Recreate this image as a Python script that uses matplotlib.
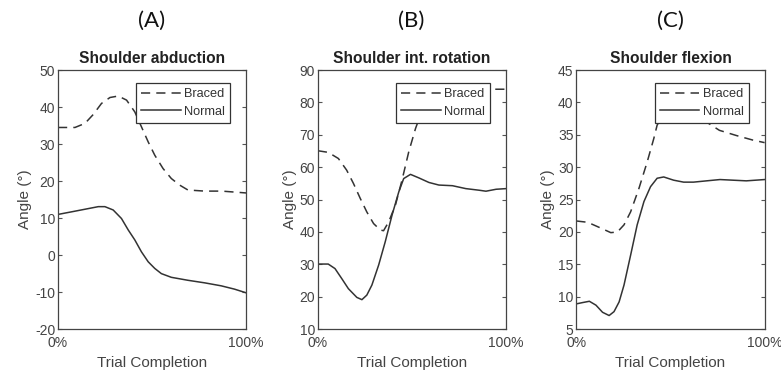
import matplotlib.pyplot as plt
import numpy as np

# trial completion fraction (0..1) and angles (deg)
abd_braced_x = [0, 0.09, 0.143, 0.187, 0.231, 0.276, 0.32, 0.364, 0.408, 0.443, 0.479, 0.514,
                0.558, 0.602, 0.647, 0.69, 0.78, 0.87, 1.0]
abd_braced_y = [34.5, 34.5, 35.6, 38.0, 41.0, 42.6, 43.0, 41.9, 38.7, 34.7, 30.6, 27.0,
                23.4, 20.7, 18.9, 17.6, 17.3, 17.3, 16.8]
abd_normal_x = [0, 0.072, 0.143, 0.214, 0.249, 0.293, 0.337, 0.373, 0.408, 0.443, 0.479, 0.514,
                0.549, 0.602, 0.69, 0.78, 0.867, 0.938, 1.0]
abd_normal_y = [11.0, 11.7, 12.4, 13.1, 13.1, 12.2, 9.9, 6.8, 4.1, 0.9, -1.8, -3.6,
                -5.0, -6.0, -6.8, -7.5, -8.3, -9.2, -10.2]

rot_braced_x = [0, 0.055, 0.109, 0.153, 0.189, 0.225, 0.26, 0.296, 0.332, 0.349, 0.376, 0.412,
                0.447, 0.483, 0.519, 0.56, 0.6, 0.65, 0.75, 0.929, 1.0]
rot_braced_y = [65.1, 64.6, 62.7, 59.1, 55.0, 50.4, 46.2, 42.6, 40.6, 40.4, 43.1, 48.3,
                56.0, 64.8, 72.0, 78.5, 82.5, 84.6, 84.5, 84.1, 84.1]
rot_normal_x = [0, 0.055, 0.091, 0.127, 0.162, 0.207, 0.234, 0.26, 0.287, 0.323, 0.358, 0.394,
                0.43, 0.456, 0.492, 0.537, 0.59, 0.643, 0.715, 0.786, 0.857, 0.893, 0.947, 1.0]
rot_normal_y = [30.1, 30.1, 28.7, 25.6, 22.5, 19.8, 19.1, 20.5, 23.6, 29.8, 37.0, 45.2,
                52.4, 56.5, 57.8, 56.7, 55.3, 54.5, 54.3, 53.4, 52.9, 52.6, 53.2, 53.4]

flex_braced_x = [0, 0.06, 0.13, 0.183, 0.218, 0.253, 0.288, 0.332, 0.376, 0.411, 0.429,
                 0.47, 0.53, 0.6, 0.69, 0.76, 0.85, 0.937, 1.0]
flex_braced_y = [21.7, 21.5, 20.6, 19.9, 20.0, 21.1, 23.1, 26.7, 30.8, 34.4, 36.5,
                 38.5, 39.0, 38.4, 37.0, 35.7, 34.9, 34.2, 33.8]
flex_normal_x = [0, 0.033, 0.069, 0.104, 0.139, 0.174, 0.2, 0.227, 0.253, 0.288, 0.323, 0.359,
                 0.394, 0.429, 0.464, 0.517, 0.57, 0.622, 0.692, 0.763, 0.833, 0.903, 1.0]
flex_normal_y = [8.9, 9.1, 9.3, 8.7, 7.6, 7.1, 7.7, 9.2, 11.8, 16.4, 21.1, 24.7,
                 27.0, 28.3, 28.5, 28.0, 27.7, 27.7, 27.9, 28.1, 28.0, 27.9, 28.1]

panels = ['(A)', '(B)', '(C)']
titles = ['Shoulder abduction', 'Shoulder int. rotation', 'Shoulder flexion']
ylims = [(-20, 50), (10, 90), (5, 45)]
yticks = [np.arange(-20, 51, 10), np.arange(10, 91, 10), np.arange(5, 46, 5)]
series = [(abd_braced_x, abd_braced_y, abd_normal_x, abd_normal_y),
          (rot_braced_x, rot_braced_y, rot_normal_x, rot_normal_y),
          (flex_braced_x, flex_braced_y, flex_normal_x, flex_normal_y)]

plt.rcParams['font.family'] = ['Liberation Sans', 'DejaVu Sans']
plt.rcParams['axes.unicode_minus'] = False
fig = plt.figure(figsize=(7.81, 3.77), dpi=100)
lefts = [0.0743, 0.407, 0.738]
ink = '#333333'

for i in range(3):
    ax = fig.add_axes([lefts[i], 0.127, 0.241, 0.687])
    bx, by, nx, ny = series[i]
    ax.plot(bx, by, color=ink, lw=1.1, ls=(0, (6, 4)), label='Braced')
    ax.plot(nx, ny, color=ink, lw=1.1, label='Normal')
    ax.set_xlim(0, 1)
    ax.set_ylim(*ylims[i])
    ax.set_xticks([0, 1])
    ax.set_xticklabels(['0%', '100%'])
    ax.set_yticks(yticks[i])
    ax.tick_params(direction='in', length=3, width=0.8, colors='#555555',
                   labelcolor='#444444', labelsize=10, right=True, pad=2)
    ax.tick_params(axis='x', length=0, pad=5)
    for sp in ax.spines.values():
        sp.set_color('#444444')
        sp.set_linewidth(0.9)
    ax.set_title(titles[i], fontsize=11.2, fontweight='bold', color='#222222', pad=5)
    ax.set_ylabel('Angle (°)', fontsize=11, color='#444444', labelpad=2)
    ax.set_xlabel('Trial Completion', fontsize=11, color='#444444', labelpad=4)
    leg = ax.legend(loc='upper right', bbox_to_anchor=(0.915, 0.95), fontsize=9.2,
                    frameon=True, fancybox=False, framealpha=1, edgecolor='#333333',
                    handlelength=3.1, handletextpad=0.25, borderpad=0.4,
                    labelspacing=0.45, borderaxespad=0)
    leg.get_frame().set_linewidth(0.9)
    for t in leg.get_texts():
        t.set_color('#333333')
    fig.text(lefts[i] + 0.12, 0.945, panels[i], ha='center', va='center',
             fontsize=16, family=['Lato', 'DejaVu Sans'], color='#111111')

fig.savefig('out.png', dpi=100)
